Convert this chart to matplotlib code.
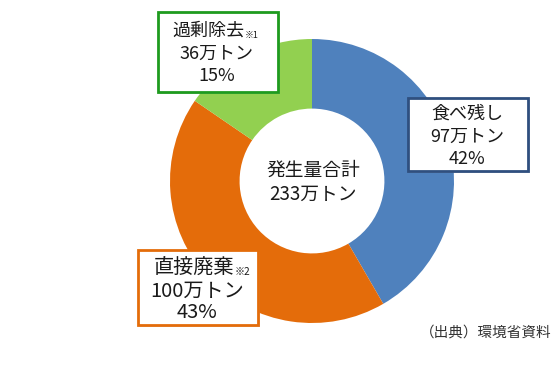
import matplotlib
matplotlib.use("Agg")
import matplotlib.pyplot as plt
from matplotlib.patches import Rectangle

plt.rcParams['font.family'] = ['Noto Sans CJK JP', 'DejaVu Sans']

# data
categories = ['食べ残し', '直接廃棄', '過剰除去']
notes = ['', '※2', '※1']
values = [97, 100, 36]          # 万トン
percents = [42, 43, 15]
colors = ['#4F81BD', '#E46C0A', '#92D050']
border_colors = ['#2F4F7F', '#E46C0A', '#1E9B1E']
total_label = '発生量合計'
total_value = sum(values)
source = '（出典）環境省資料'

W, H = 559, 369
fig = plt.figure(figsize=(W / 100, H / 100), dpi=100)
ax = fig.add_axes([0, 0, 1, 1])

# pixel-style coords (y measured from top, flipped below)
cx, cy, R = 312, 181, 142
ax.pie(values, colors=colors, startangle=90, counterclock=False,
       center=(cx, H - cy), radius=R,
       wedgeprops=dict(width=R * 0.49, linewidth=0))
ax.set_xlim(0, W)
ax.set_ylim(0, H)
ax.set_aspect('equal')
ax.axis('off')

txt = '#1a1a1a'
ax.text(cx + 1, H - 170, total_label, ha='center', va='center', fontsize=13.5, color=txt)
ax.text(cx + 1, H - 194, f'{total_value}万トン', ha='center', va='center', fontsize=13.5, color=txt)

# label boxes: (left, top, width, height, font size, first-line right/center x, other lines x, first line y)
boxes = [
    (408, 98, 120, 73, 13, 467, 467, 114),
    (138, 250, 120, 75, 14.5, 234, 197, 268),
    (158, 12, 120, 80, 13, 244, 217, 31),
]
for i, (lx, ty, bw, bh, fs, x1, x2, y0) in enumerate(boxes):
    ax.add_patch(Rectangle((lx + 2, H - ty - bh - 2), bw, bh, facecolor='#BBBBBB',
                           edgecolor='none', alpha=0.5, zorder=3))
    ax.add_patch(Rectangle((lx, H - ty - bh), bw, bh, facecolor='white',
                           edgecolor=border_colors[i], linewidth=2, zorder=4))
    if notes[i]:
        ax.text(x1, H - y0, categories[i], ha='right', va='center',
                fontsize=fs, color=txt, zorder=5)
        ax.text(x1 + 1, H - y0 - 4, notes[i], ha='left', va='center',
                fontsize=fs * 0.5, color=txt, zorder=5)
    else:
        ax.text(x1, H - y0, categories[i], ha='center', va='center',
                fontsize=fs, color=txt, zorder=5)
    ax.text(x2, H - y0 - 23, f'{values[i]}万トン', ha='center', va='center',
            fontsize=fs, color=txt, zorder=5)
    ax.text(x2, H - y0 - 45, f'{percents[i]}%', ha='center', va='center',
            fontsize=fs, color=txt, zorder=5)

ax.text(551, H - 333, source, ha='right', va='center', fontsize=10.5, color='#333333')

fig.savefig('out.png', dpi=100)
